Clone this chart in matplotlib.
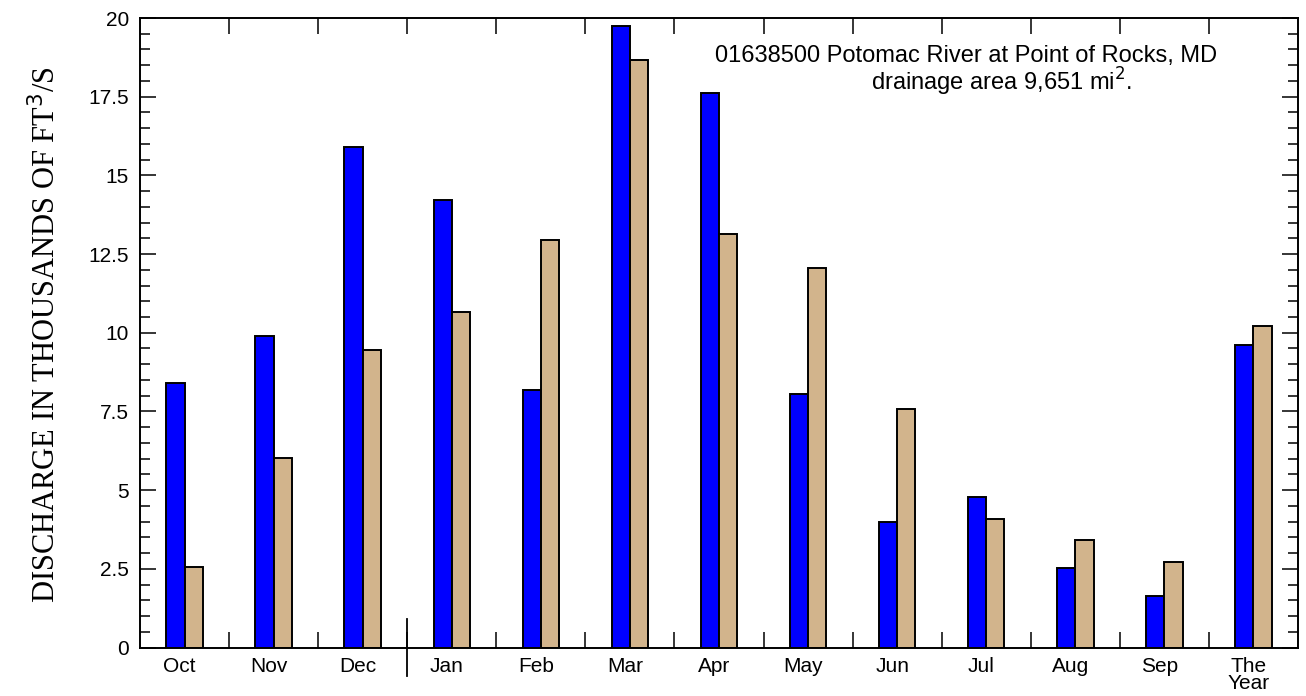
import numpy as np
import matplotlib
matplotlib.use("Agg")
import matplotlib.pyplot as plt
import matplotlib.transforms as mtransforms
from matplotlib.ticker import MultipleLocator, FixedLocator, FuncFormatter

months = ["Oct", "Nov", "Dec", "Jan", "Feb", "Mar", "Apr", "May", "Jun",
          "Jul", "Aug", "Sep", "The\nYear"]
flow_blue = [8.40, 9.89, 15.90, 14.21, 8.19, 19.75, 17.61, 8.05, 3.99,
             4.79, 2.52, 1.65, 9.61]
flow_tan = [2.56, 6.03, 9.45, 10.67, 12.94, 18.67, 13.13, 12.06, 7.57,
            4.07, 3.43, 2.71, 10.22]

def fmt(v, pos):
    return "%g" % v

def main():
    plt.rcParams["font.family"] = ["Liberation Sans", "DejaVu Sans"]
    fig = plt.figure(figsize=(13.06, 6.96), dpi=100)
    ax = fig.add_axes([140 / 1306, 1 - 647.5 / 696, 1158 / 1306, 629.5 / 696])

    x = np.arange(len(months))
    w = 0.205
    ax.bar(x - w / 2, flow_blue, w, color="#0000ff", edgecolor="black", linewidth=1.4)
    ax.bar(x + w / 2, flow_tan, w, color="#d2b48c", edgecolor="black", linewidth=1.4)

    ax.set_xlim(-0.5, len(months) - 0.5)
    ax.set_ylim(0, 20)

    ax.set_xticks(x)
    ax.set_xticklabels(months, fontsize=15, linespacing=0.85)
    ax.xaxis.set_minor_locator(FixedLocator(np.arange(0.5, len(months) - 1, 1.0)))
    ax.tick_params(axis="x", which="major", length=0, pad=7)
    ax.tick_params(axis="x", which="minor", direction="in", length=11.5, width=1.1,
                   top=True, bottom=True)
    offset = mtransforms.ScaledTranslation(-5 / 100, 0, fig.dpi_scale_trans)
    for lab in ax.get_xticklabels():
        lab.set_transform(lab.get_transform() + offset)

    ax.yaxis.set_major_locator(MultipleLocator(2.5))
    ax.yaxis.set_minor_locator(MultipleLocator(0.5))
    ax.yaxis.set_major_formatter(FuncFormatter(fmt))
    ax.tick_params(axis="y", which="major", direction="in", length=11.5, width=1.1,
                   left=True, right=True, labelsize=15, pad=8)
    ax.tick_params(axis="y", which="minor", direction="in", length=7.2, width=1.1,
                   left=True, right=True)

    for sp in ax.spines.values():
        sp.set_linewidth(1.4)

    # water year break between Dec and Jan
    ax.plot([2.5, 2.5], [-0.045, 0.045], color="black", linewidth=1.3,
            transform=ax.get_xaxis_transform(), clip_on=False)

    fig.text(46 / 1306, 1 - 335 / 696, "DISCHARGE IN THOUSANDS OF FT$^3$/S",
             rotation=90, ha="center", va="center", fontsize=22,
             family="Liberation Serif")

    fig.text(715 / 1306, 1 - 62 / 696,
             "01638500 Potomac River at Point of Rocks, MD",
             ha="left", va="baseline", fontsize=17)
    fig.text(871 / 1306, 1 - 91 / 696, "drainage area 9,651 mi$^2$.",
             ha="left", va="baseline", fontsize=17)

    fig.savefig("out.png", dpi=100)

if __name__ == "__main__":
    main()
